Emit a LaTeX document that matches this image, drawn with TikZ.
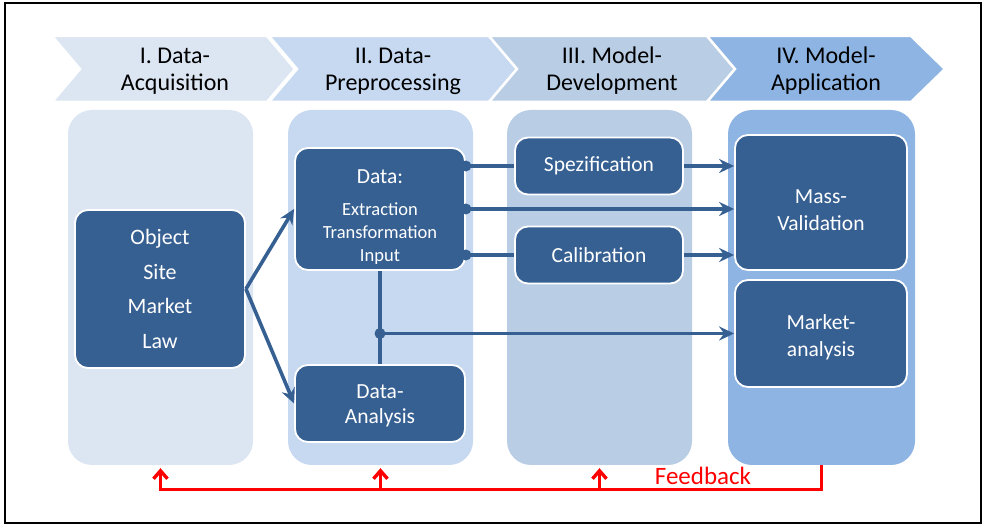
\documentclass[tikz,border=0pt]{standalone}
\usepackage{fontspec}
\setmainfont{Carlito}
\usepackage{tikz}
\usetikzlibrary{arrows.meta}
\definecolor{darkbox}{HTML}{376092}
\definecolor{phaseA}{HTML}{DCE6F2}
\definecolor{phaseB}{HTML}{C6D9F1}
\definecolor{phaseC}{HTML}{B9CDE5}
\definecolor{phaseD}{HTML}{8EB4E3}

\begin{document}
\begin{tikzpicture}[x=1pt,y=-1pt,
  chev/.style={draw=white,line width=2.5pt},
  phase/.style={align=center,font=\fontsize{24}{27}\selectfont},
  column/.style={rounded corners=24pt,minimum width=185pt,minimum height=355pt,inner sep=0pt},
  box/.style={draw=white,line width=1.8pt,fill=darkbox,rounded corners=13pt,text=white,
    align=center,inner sep=0pt,font=\fontsize{21.5}{27}\selectfont},
  conn/.style={draw=darkbox,line width=3.6pt},
  tip/.style={-{Stealth[length=15pt,width=14pt,inset=5pt]}},
  fb/.style={draw=red,line width=3.4pt,-{Straight Barb[length=8pt,width=14pt]}}]
  \useasboundingbox (0,0) rectangle (983,526);
  \draw[line width=1.8pt] (5,3) rectangle (981,523);

  % phases
  \draw[chev,fill=phaseA] (52,36) -- (267,36) -- (295,69) -- (267,102) -- (52,102) -- (80,69) -- cycle;
  \draw[chev,fill=phaseB] (269,36) -- (489,36) -- (517,69) -- (489,102) -- (269,102) -- (297,69) -- cycle;
  \draw[chev,fill=phaseC] (489,36) -- (707,36) -- (735,69) -- (707,102) -- (489,102) -- (517,69) -- cycle;
  \draw[chev,fill=phaseD] (707,36) -- (911,36) -- (945,69) -- (911,102) -- (707,102) -- (735,69) -- cycle;
  \node[phase] (p1) at (175,71) {I. Data-\\Acquisition};
  \node[phase] (p2) at (393,71) {II. Data-\\Preprocessing};
  \node[phase] (p3) at (612,71) {III. Model-\\Development};
  \node[phase] (p4) at (826,71) {IV. Model-\\Application};

  \node[column,fill=phaseA] (col1) at (160.5,287.5) {};
  \node[column,fill=phaseB] (col2) at (380.5,287.5) {};
  \node[column,fill=phaseC] (col3) at (599.5,287.5) {};
  \node[column,fill=phaseD,minimum width=187pt] (col4) at (821.5,287.5) {};

  \node[box,minimum width=170pt,minimum height=158pt,font=\fontsize{22}{34.5}\selectfont]
    (obj) at (160,289) {Object\\Site\\Market\\Law};
  \node[box,minimum width=170pt,minimum height=122pt,font=\fontsize{18.5}{23}\selectfont]
    (data) at (380,209) {{\fontsize{21.5}{23}\selectfont\rule{0pt}{30pt}Data:}\\[9pt]Extraction\\Transformation\\Input};
  \node[box,minimum width=170pt,minimum height=77pt,font=\fontsize{21.5}{24.5}\selectfont]
    (ana) at (380,403.5) {\rule{0pt}{18pt}Data-\\Analysis};
  \node[box,minimum width=168pt,minimum height=57pt] (spec) at (599,166) {Spezification};
  \node[box,minimum width=168pt,minimum height=57pt] (cal) at (599,255) {Calibration};
  \node[box,minimum width=172pt,minimum height=135pt] (mass) at (821,202.5) {\rule{0pt}{29pt}Mass-\\Validation};
  \node[box,minimum width=172pt,minimum height=107pt] (mkt) at (821,333.5) {\rule{0pt}{22pt}Market-\\analysis};

  \draw[conn,tip] (obj.east) -- (data.west);
  \draw[conn,tip] (obj.east) -- (ana.west);
  \draw[conn] (data.east |- spec.west) -- (spec.west);
  \draw[conn] (data.east |- cal.west) -- (cal.west);
  \draw[conn,tip] (spec.east) -- (spec.east -| mass.west);
  \draw[conn,tip] (cal.east) -- (cal.east -| mass.west);
  \draw[conn,tip] (data.east) -- (data.east -| mass.west);
  \draw[conn] (data.south) -- (ana.north);
  \coordinate (junc) at (data.south |- mkt.west);
  \draw[conn,tip] (junc) -- (mkt.west);
  \fill[darkbox] (data.east |- spec.west) circle (5.5pt)
    (data.east) circle (5.5pt)
    (data.east |- cal.west) circle (5.5pt)
    (junc) circle (5.5pt);

  % feedback
  \draw[fb,shorten >=3pt] (col4.south) -- ++(0,24) coordinate (fbend) -| (col1.south);
  \draw[fb,shorten >=3pt] (col2.south |- fbend) -- (col2.south);
  \draw[fb,shorten >=3pt] (col3.south |- fbend) -- (col3.south);
  \node[text=red,font=\fontsize{25}{28}\selectfont] (fbl) at (703,476) {Feedback};
\end{tikzpicture}
\end{document}
